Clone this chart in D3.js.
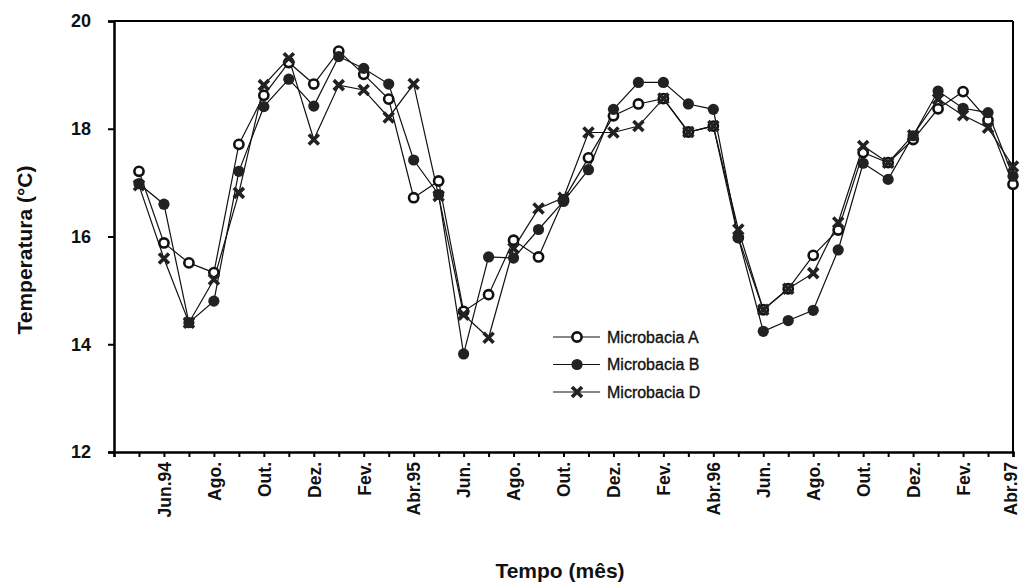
<!DOCTYPE html>
<html><head><meta charset="utf-8">
<script src="https://cdn.jsdelivr.net/npm/d3@7"></script>
<style>body{margin:0;background:#fff}svg{display:block}text{font-family:"Liberation Sans",Arial,sans-serif}</style>
</head><body>
<svg id="c" width="1022" height="586"></svg>
<script>
// month index: 0 = Abr.94 ... 36 = Abr.97; data from 1 (Mai.94) to 36
const tickLabels = ["Jun.94","Ago.","Out.","Dez.","Fev.","Abr.95","Jun.","Ago.","Out.","Dez.","Fev.","Abr.96","Jun.","Ago.","Out.","Dez.","Fev.","Abr.97"];
const tickLabelMonths = [2,4,6,8,10,12,14,16,18,20,22,24,26,28,30,32,34,36];
const months = d3.range(1,37);
const serieA = [17.21,15.88,15.51,15.33,17.71,18.62,19.23,18.83,19.44,19.01,18.55,16.72,17.03,14.61,14.92,15.93,15.62,16.68,17.46,18.24,18.46,18.56,17.94,18.05,15.98,14.64,15.03,15.65,16.12,17.56,17.37,17.80,18.37,18.69,18.16,16.97];
const serieB = [16.98,16.60,14.40,14.80,17.21,18.41,18.92,18.42,19.34,19.12,18.83,17.42,16.78,13.82,15.62,15.60,16.13,16.65,17.24,18.36,18.86,18.86,18.46,18.36,15.98,14.24,14.44,14.63,15.75,17.36,17.06,17.87,18.70,18.38,18.30,17.12];
const serieD = [16.95,15.59,14.40,15.20,16.81,18.81,19.31,17.80,18.81,18.72,18.21,18.83,16.75,14.55,14.12,15.78,16.52,16.72,17.93,17.93,18.05,18.56,17.94,18.05,16.13,14.64,15.03,15.32,16.26,17.68,17.37,17.88,18.55,18.25,18.02,17.30];
const seriesNames = ["Microbacia A","Microbacia B","Microbacia D"];
const markerTypes = ["open","filled","cross"];
const yTicks = [12,14,16,18,20];

const svg = d3.select("#c");
const L=114, R=1013, T=21, B=452;
const x = d3.scaleLinear().domain([0,36]).range([L,R]);
const y = d3.scaleLinear().domain([12,20]).range([B,T]);

// frame
svg.append("line").attr("x1",L).attr("x2",R).attr("y1",T).attr("y2",T).attr("stroke","#000").attr("stroke-width",2);
svg.append("line").attr("x1",R).attr("x2",R).attr("y1",T).attr("y2",B).attr("stroke","#000").attr("stroke-width",2);

// y axis
const ya = svg.append("g").attr("transform",`translate(${L},0)`)
  .call(d3.axisLeft(y).tickValues(yTicks).tickSize(6).tickFormat(d3.format("d")));
ya.select(".domain").attr("stroke-width",2.5);
ya.selectAll(".tick line").attr("stroke-width",2);
ya.selectAll("text").attr("font-size",18).attr("font-weight","bold").attr("x",-23).attr("fill","#111");

// x axis
const xa = svg.append("g").attr("transform",`translate(0,${B})`)
  .call(d3.axisBottom(x).tickValues(d3.range(0,37)).tickSize(5).tickFormat(""));
xa.select(".domain").attr("stroke-width",2.5);
xa.selectAll(".tick line").attr("stroke-width",2);
const lblMap = new Map(tickLabelMonths.map((m,i)=>[m,tickLabels[i]]));
xa.selectAll(".tick").filter(d=>lblMap.has(d)).append("text")
  .attr("transform","rotate(-90)").attr("x",-10).attr("y",d=>d===36?-3:0).attr("dy","0.36em")
  .attr("text-anchor","end").attr("font-size",17.5).attr("font-weight","bold").attr("fill","#111")
  .text(d=>lblMap.get(d));

// titles
svg.append("text").attr("transform","translate(32,250) rotate(-90)").attr("text-anchor","middle")
  .attr("font-size",21).attr("font-weight","bold").attr("fill","#111").text("Temperatura (°C)");
svg.append("text").attr("x",560).attr("y",578).attr("text-anchor","middle")
  .attr("font-size",21).attr("font-weight","bold").attr("fill","#111").text("Tempo (mês)");

function marker(g, type){
  if(type==="open") g.append("circle").attr("r",4.6).attr("fill","#fff").attr("stroke","#111").attr("stroke-width",2.6);
  else if(type==="filled") g.append("circle").attr("r",5.6).attr("fill","#222");
  else g.append("path").attr("d","M-5,-5L5,5M-5,5L5,-5").attr("stroke","#222").attr("stroke-width",3.6).attr("fill","none");
}

const allSeries = [serieA, serieB, serieD];
const line = d3.line().x(d=>x(d[0])).y(d=>y(d[1]));
allSeries.forEach(s=>{
  svg.append("path").datum(months.map((m,i)=>[m,s[i]])).attr("d",line)
    .attr("fill","none").attr("stroke","#111").attr("stroke-width",1.2);
});
allSeries.forEach((s,k)=>{
  months.forEach((m,i)=>{
    const g = svg.append("g").attr("transform",`translate(${x(m)},${y(s[i])})`);
    marker(g, markerTypes[k]);
  });
});

// legend
const lg = svg.append("g");
seriesNames.forEach((n,k)=>{
  const yy = 337 + k*27.5;
  lg.append("line").attr("x1",553).attr("x2",600).attr("y1",yy).attr("y2",yy).attr("stroke","#111").attr("stroke-width",1.2);
  marker(lg.append("g").attr("transform",`translate(577,${yy})`), markerTypes[k]);
  lg.append("text").attr("x",607).attr("y",yy).attr("dy","0.35em").attr("font-size",16)
    .attr("fill","#111").attr("stroke","#111").attr("stroke-width",0.35).text(n);
});
</script>
</body></html>
